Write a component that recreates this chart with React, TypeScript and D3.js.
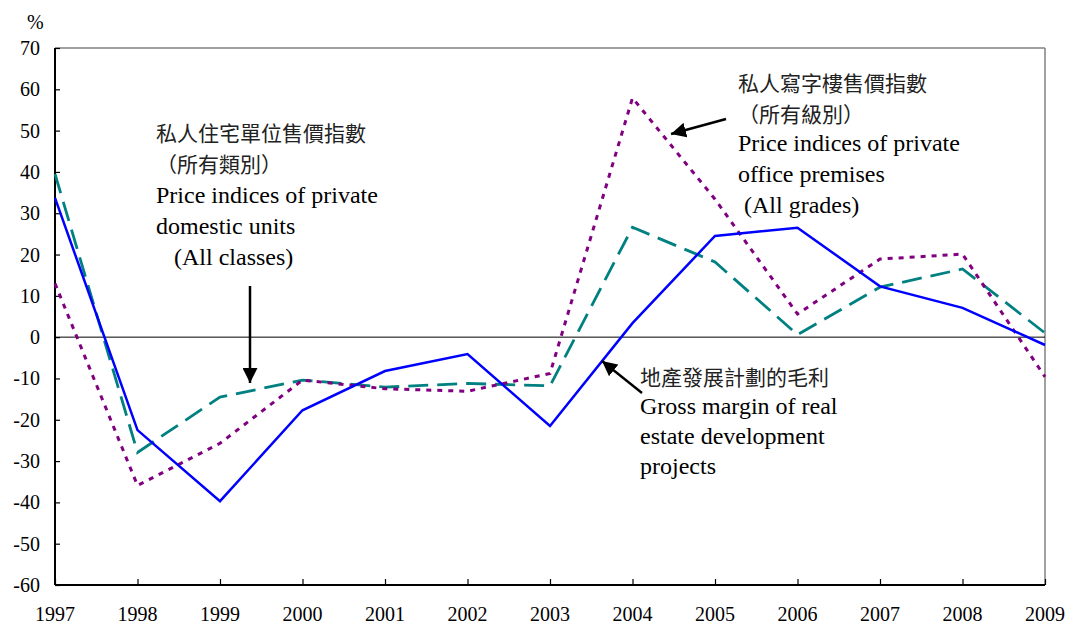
import { useRef, useEffect } from 'react';
import * as d3 from 'd3';

const years = [1997, 1998, 1999, 2000, 2001, 2002, 2003, 2004, 2005, 2006, 2007, 2008, 2009];
const grossMargin = [33.7, -22.5, -39.7, -17.7, -8.2, -4.1, -21.5, 3.4, 24.5, 26.5, 12.3, 7.1, -1.9];
const domesticPrices = [39.5, -27.9, -14.5, -10.4, -12.1, -11.2, -11.8, 26.6, 18.2, 0.6, 12.1, 16.5, 1.0];
const officePrices = [13.0, -35.9, -25.7, -10.4, -12.5, -13.1, -8.8, 57.9, 33.4, 5.6, 18.9, 20.1, -9.6];
const yTicks = [70, 60, 50, 40, 30, 20, 10, 0, -10, -20, -30, -40, -50, -60];

const serif = '"Liberation Serif", "Times New Roman", serif';
const cjk = '"Noto Sans CJK TC", "Noto Sans CJK SC", sans-serif';

export default function App() {
  const svgRef = useRef<SVGSVGElement | null>(null);

  useEffect(() => {
    const width = 1067;
    const height = 624;
    const margin = { top: 48, right: 22, bottom: 39, left: 55 };

    const svg = d3.select(svgRef.current).attr('width', width).attr('height', height);
    svg.selectAll('*').remove();

    const x = d3.scaleLinear().domain([1997, 2009]).range([margin.left, width - margin.right]);
    const y = d3.scaleLinear().domain([-60, 70]).range([height - margin.bottom, margin.top]);

    // arrow head
    svg.append('defs').append('marker')
      .attr('id', 'head')
      .attr('viewBox', '0 0 10 10')
      .attr('refX', 10).attr('refY', 5)
      .attr('markerWidth', 6).attr('markerHeight', 6)
      .attr('markerUnits', 'strokeWidth')
      .attr('orient', 'auto')
      .append('path').attr('d', 'M0,0 L10,5 L0,10 Z').attr('fill', '#000');

    // frame: top and right in gray
    svg.append('line').attr('x1', x(1997)).attr('x2', x(2009)).attr('y1', y(70)).attr('y2', y(70))
      .attr('stroke', '#808080').attr('stroke-width', 1.5);
    svg.append('line').attr('x1', x(2009)).attr('x2', x(2009)).attr('y1', y(70)).attr('y2', y(-60))
      .attr('stroke', '#808080').attr('stroke-width', 1.5);

    // zero line
    svg.append('line').attr('x1', x(1997)).attr('x2', x(2009)).attr('y1', y(0)).attr('y2', y(0))
      .attr('stroke', '#000').attr('stroke-width', 1);

    // y axis, ticks inward
    const yAxis = svg.append('g')
      .attr('transform', `translate(${x(1997)},0)`)
      .call(d3.axisRight(y).tickValues(yTicks).tickSize(5).tickFormat(() => ''));
    yAxis.select('.domain').attr('stroke', '#000').attr('stroke-width', 2).attr('d', `M0,${y(70)}V${y(-60)}`);
    yAxis.selectAll('.tick line').attr('stroke', '#000').attr('stroke-width', 1.2);

    svg.append('g').selectAll('text').data(yTicks).enter().append('text')
      .attr('x', 40).attr('y', d => y(d) + 7)
      .attr('text-anchor', 'end')
      .attr('font-family', serif).attr('font-size', 20).attr('fill', '#000')
      .text(d => d);

    // x axis, ticks upward
    const xAxis = svg.append('g')
      .attr('transform', `translate(0,${y(-60)})`)
      .call(d3.axisTop(x).tickValues(years).tickSize(6).tickFormat(() => ''));
    xAxis.select('.domain').attr('stroke', '#000').attr('stroke-width', 2).attr('d', `M${x(1997)},0H${x(2009)}`);
    xAxis.selectAll('.tick line').attr('stroke', '#000').attr('stroke-width', 1.2);

    svg.append('g').selectAll('text').data(years).enter().append('text')
      .attr('x', d => x(d)).attr('y', 621)
      .attr('text-anchor', 'middle')
      .attr('font-family', serif).attr('font-size', 20).attr('fill', '#000')
      .text(d => d);

    svg.append('text').attr('x', 27).attr('y', 29)
      .attr('font-family', serif).attr('font-size', 20).text('%');

    // series
    const line = d3.line<number>().x((_, i) => x(years[i])).y(d => y(d));
    const series = [
      { values: domesticPrices, color: '#008080', width: 2.8, dash: '20,9' },
      { values: officePrices, color: '#800080', width: 3, dash: '5,6' },
      { values: grossMargin, color: '#0000FF', width: 2.5, dash: null },
    ];
    series.forEach(s => {
      svg.append('path')
        .datum(s.values)
        .attr('d', line)
        .attr('fill', 'none')
        .attr('stroke', s.color)
        .attr('stroke-width', s.width)
        .attr('stroke-dasharray', s.dash)
        .attr('stroke-linejoin', 'miter');
    });

    // annotations
    const addBlock = (x0: number, lines: { t: string; y: number; dx?: number; zh?: boolean }[]) => {
      lines.forEach(l => {
        svg.append('text')
          .attr('x', x0 + (l.dx || 0)).attr('y', l.y)
          .attr('font-family', l.zh ? cjk : serif)
          .attr('font-size', l.zh ? 21 : 24)
          .attr('fill', l.zh ? '#222' : '#000')
          .text(l.t);
      });
    };
    addBlock(156, [
      { t: '私人住宅單位售價指數', y: 141, zh: true },
      { t: '（所有類別）', y: 172, zh: true },
      { t: 'Price indices of private', y: 203 },
      { t: 'domestic units', y: 234 },
      { t: '(All classes)', y: 265, dx: 18 },
    ]);
    addBlock(738, [
      { t: '私人寫字樓售價指數', y: 91, zh: true },
      { t: '（所有級別）', y: 122, zh: true },
      { t: 'Price indices of private', y: 151 },
      { t: 'office premises', y: 182 },
      { t: '(All grades)', y: 213, dx: 6 },
    ]);
    addBlock(640, [
      { t: '地產發展計劃的毛利', y: 385, zh: true },
      { t: 'Gross margin of real', y: 414 },
      { t: 'estate development', y: 444 },
      { t: 'projects', y: 474 },
    ]);

    const arrows = [
      [250, 286, 250, 383],
      [726, 119, 671, 134],
      [642, 393, 602, 361],
    ];
    arrows.forEach(a => {
      svg.append('line')
        .attr('x1', a[0]).attr('y1', a[1]).attr('x2', a[2]).attr('y2', a[3])
        .attr('stroke', '#000').attr('stroke-width', 2.5)
        .attr('marker-end', 'url(#head)');
    });
  }, []);

  return (
    <svg ref={svgRef} style={{ position: 'absolute', left: 0, top: 0, display: 'block', background: '#fff' }} />
  );
}
